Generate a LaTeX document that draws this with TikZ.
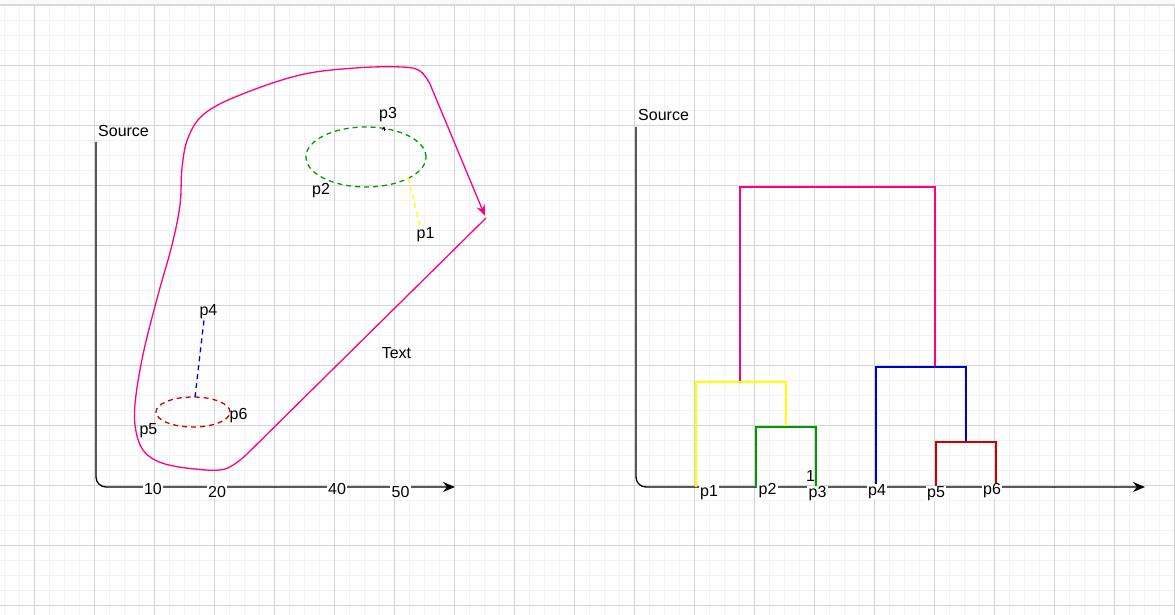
\documentclass[tikz,border=0pt]{standalone}
\usepackage{fontspec}
\setmainfont{Liberation Sans}
\usetikzlibrary{arrows.meta}
\definecolor{gmin}{HTML}{F2F2F2}
\definecolor{gmaj}{HTML}{D4D4D4}
\definecolor{pinkc}{HTML}{FF0080}
\definecolor{greenc}{HTML}{009900}
\definecolor{yellowc}{HTML}{FFFF00}
\definecolor{bluec}{HTML}{0000CC}
\definecolor{redc}{HTML}{CC0000}
\begin{document}
\begin{tikzpicture}[x=1pt,y=-1pt,
  lbl/.style={font=\fontsize{16}{19}\selectfont, inner sep=0.5pt, anchor=base, text=black},
  axlbl/.style={lbl, fill=white, inner xsep=1.5pt},
  axisline/.style={black, line width=1.3pt, rounded corners=10pt, -{Stealth[length=12pt,width=10pt]}},
  dashline/.style={line width=1.3pt, dash pattern=on 5pt off 4pt},
  dendro/.style={line width=1.4pt, line join=miter}]
% canvas
\useasboundingbox (0,0) rectangle (1175,615);
\fill[white] (0,0) rectangle (1175,615);
\fill[black!2] (0,0) rectangle (1175,4);
\fill[black!15] (0,4) rectangle (1175,6.3);
\foreach \x in {4,19,...,1174} \draw[gmin, line width=0.8pt] (\x,6.3) -- (\x,615);
\foreach \y in {20,35,...,605} \draw[gmin, line width=0.8pt] (0,\y) -- (1175,\y);
\foreach \x in {34,94,...,1174} \draw[gmaj, line width=0.8pt] (\x,6.3) -- (\x,615);
\foreach \y in {65,125,...,605} \draw[gmaj, line width=0.8pt] (0,\y) -- (1175,\y);

% ---------- left chart ----------
\coordinate (laxtop) at (96,142);
\coordinate (laxcorner) at (96,487);
\coordinate (laxend) at (455,487);
\draw[axisline] (laxtop) -- (laxcorner) -- (laxend);
\node[lbl, anchor=base west] (src1) at (97.5,136) {Source};

% green ellipse (p2, p3)
\draw[greenc, dashline] (366,157) ellipse [x radius=60pt, y radius=30pt];
\coordinate (gtop) at (384,131);
\coordinate (gtip) at (384,126.5);
\draw[black, line width=0.8pt, -{Stealth[length=3.5pt,width=4pt]}] (gtop) -- (gtip);
% yellow dashed to p1
\coordinate (ya) at (408,177);
\coordinate (yb) at (420,226);
\draw[yellowc, dashline] (ya) -- (yb);
% red ellipse (p5, p6)
\draw[redc, dashline] (193,412) ellipse [x radius=37pt, y radius=15pt];
\coordinate (ba) at (195,397);
\coordinate (bb) at (204,320);
\draw[bluec, dashline] (ba) -- (bb);

% pink freehand loop
\draw[pinkc, line width=1.3pt, -{Stealth[length=11pt,width=9pt]}]
  (486,218) -- plot[smooth, tension=0.6] coordinates {
   (246,455) (225,469) (195,469) (162,463) (143,450) (135,425) (136,395)
   (144,350) (158,295) (172,245) (180,205) (182,168) (188,138) (204,114)
   (240,95) (300,75) (355,68) (402,67) (420,71) (430,84)} -- (485,216);

\node[lbl] (lp3) at (388,119) {p3};
\node[lbl] (lp2) at (321,194) {p2};
\node[lbl] (lp1) at (425.5,238.5) {p1};
\node[lbl] (lp4) at (208.5,315) {p4};
\node[lbl] (lp6) at (238.5,419) {p6};
\node[lbl] (lp5) at (148.5,434) {p5};
\node[lbl] (ltext) at (396.5,358) {Text};

\node[axlbl] (t10) at (153,494) {10};
\node[axlbl] (t20) at (217,497) {20};
\node[axlbl] (t40) at (337,494) {40};
\node[axlbl] (t50) at (400.5,497) {50};

% ---------- right chart ----------
\coordinate (raxtop) at (636,127);
\coordinate (raxcorner) at (636,487);
\coordinate (raxend) at (1145,487);
\draw[axisline] (raxtop) -- (raxcorner) -- (raxend);
\node[lbl, anchor=base west] (src2) at (637.5,121) {Source};

\coordinate (pkA) at (740,382);
\coordinate (pkB) at (740,187);
\coordinate (pkC) at (935,187);
\coordinate (pkD) at (935,367);
\draw[pinkc, dendro] (pkA) -- (pkB) -- (pkC) -- (pkD);
\coordinate (ylA) at (696,487);
\coordinate (ylB) at (696,382);
\coordinate (ylC) at (786,382);
\coordinate (ylD) at (786,427);
\draw[yellowc, dendro] (ylA) -- (ylB) -- (ylC) -- (ylD);
\coordinate (gnA) at (756,487);
\coordinate (gnB) at (756,427);
\coordinate (gnC) at (816,427);
\coordinate (gnD) at (816,487);
\draw[greenc, dendro] (gnA) -- (gnB) -- (gnC) -- (gnD);
\coordinate (blA) at (876,487);
\coordinate (blB) at (876,367);
\coordinate (blC) at (966,367);
\coordinate (blD) at (966,442);
\draw[bluec, dendro] (blA) -- (blB) -- (blC) -- (blD);
\coordinate (rdA) at (936,487);
\coordinate (rdB) at (936,442);
\coordinate (rdC) at (996,442);
\coordinate (rdD) at (996,487);
\draw[redc, dendro] (rdA) -- (rdB) -- (rdC) -- (rdD);

\node[axlbl] (rp1) at (709,496.5) {p1};
\node[axlbl] (rp2) at (767.5,494.5) {p2};
\node[axlbl] (rp3) at (817.5,497.5) {p3};
\node[axlbl] (rp4) at (877,495.5) {p4};
\node[axlbl] (rp5) at (936,497.5) {p5};
\node[axlbl] (rp6) at (992,494.5) {p6};
\node[lbl] (one) at (810.5,481) {1};
\end{tikzpicture}
\end{document}
